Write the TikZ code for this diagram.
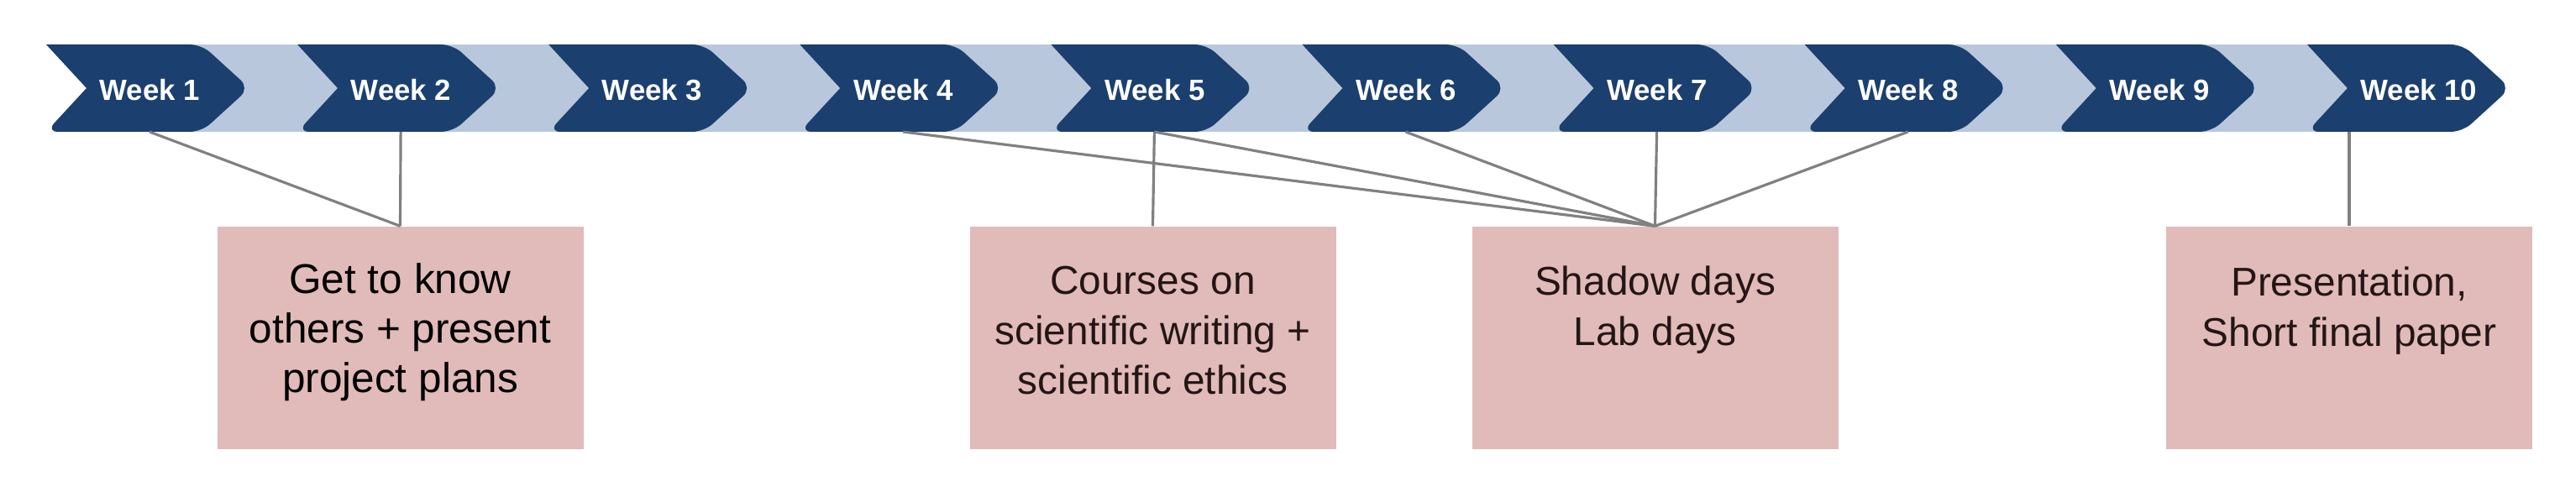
\documentclass[tikz,border=0pt]{standalone}
\usepackage{fontspec}
\setmainfont{Liberation Sans}
\usetikzlibrary{positioning}

\definecolor{weeknavy}{HTML}{1B3F6E}
\definecolor{bandblue}{HTML}{B8C7DB}
\definecolor{notepink}{HTML}{E1BBB9}
\definecolor{linkgray}{HTML}{808080}
\definecolor{notedark}{HTML}{241616}

\tikzset{
  weeklabel/.style={anchor=base west, text=white, inner sep=0pt,
    font=\bfseries\fontsize{9.9}{11}\selectfont},
  notebox/.style={fill=notepink, minimum width=4.36cm, minimum height=2.65cm, inner sep=0pt},
  notetext/.style={anchor=north, align=center, inner sep=0pt, text=notedark,
    font=\fontsize{13.6}{17}\selectfont},
  link/.style={draw=linkgray, line width=0.9pt},
}

\begin{document}
\begin{tikzpicture}
    \useasboundingbox (0,0) rectangle (30.67,-5.92);

    % Band behind the weeks
    \fill[bandblue] (1.5,-0.53) rectangle (29.0,-1.57);

    % Week chevrons
    \foreach \k in {1,...,10} {
      \pgfmathsetmacro{\xo}{0.55+2.991*(\k-1)}
      \fill[weeknavy] (\xo,-0.53) [rounded corners=4pt] -- ++(1.85,0) -- ++(0.57,-0.52)
        -- ++(-0.57,-0.52) -- ++(-1.85,0) [sharp corners] -- ++(0.48,0.52) -- cycle;
      \node[weeklabel] (w\k) at (\xo+0.63,-1.20) {Week \k};
      \coordinate (w\k-b) at (\xo+1.23,-1.57);
    }
    \coordinate (w10-n) at (27.97,-1.57);

    % Notes
    \node[notebox] (box1) at (4.765,-4.025) {};
    \node[notebox] (box2) at (13.725,-4.025) {};
    \node[notebox] (box3) at (19.705,-4.025) {};
    \node[notebox] (box4) at (27.97,-4.025) {};

    \node[notetext, text=black, font=\fontsize{14.1}{16.7}\selectfont] (note1) at ([yshift=-0.44cm]box1.north)
      {Get to know\\others + present\\project plans};
    \node[notetext] (note2) at ([yshift=-0.47cm]box2.north)
      {Courses on\\scientific writing +\\scientific ethics};
    \node[notetext] (note3) at ([yshift=-0.47cm]box3.north) {Shadow days\\Lab days};
    \node[notetext] (note4) at ([yshift=-0.48cm]box4.north) {Presentation,\\Short final paper};

    % Links
    \draw[link] (w1-b) -- (box1.north);
    \draw[link] (w2-b) -- (box1.north);
    \draw[link] (w5-b) -- (box2.north);
    \foreach \k in {4,...,8}
      \draw[link] (w\k-b) -- (box3.north);
    \draw[link] (w10-n) -- (box4.north);
\end{tikzpicture}
\end{document}
